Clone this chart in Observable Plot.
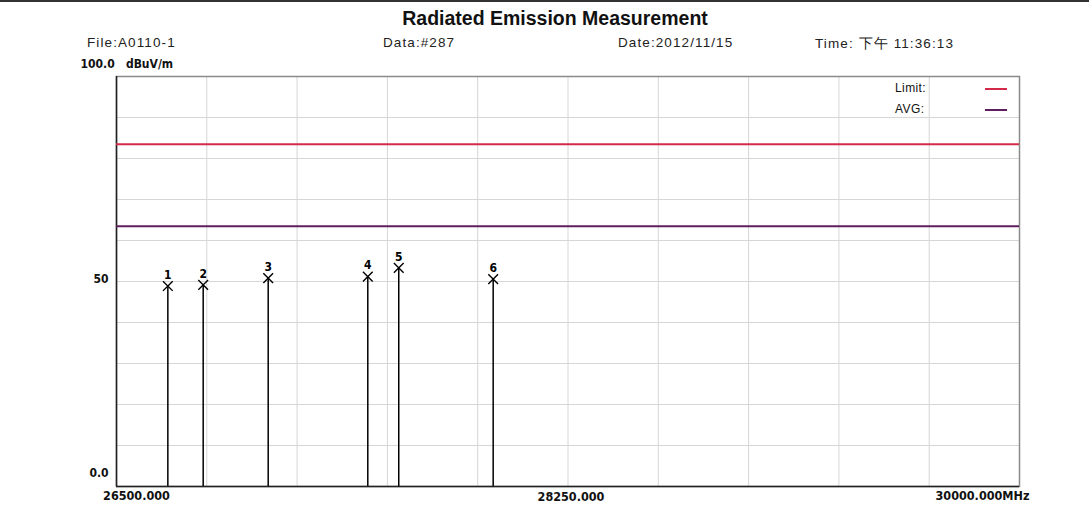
<!DOCTYPE html>
<html>
<head>
<meta charset="utf-8">
<script src="https://cdn.jsdelivr.net/npm/d3@7"></script>
<script src="https://cdn.jsdelivr.net/npm/@observablehq/plot@0.6"></script>
<style>
  html, body { margin: 0; padding: 0; background: #fff; }
  #wrap { position: relative; width: 1089px; height: 506px; overflow: hidden; border-top: 2px solid #333; box-sizing: border-box; font-family: "Liberation Sans", Arial, sans-serif; }
  .hdr { position: absolute; font-size: 13.5px; color: #222; letter-spacing: 1.1px; white-space: nowrap; }
  #title { position: absolute; top: 5px; left: 0; width: 1110px; text-align: center; font-weight: bold; font-size: 19.5px; color: #111; }
  #chart { position: absolute; left: 0; top: 52px; }
  .leg { position: absolute; font-size: 12px; color: #111; white-space: nowrap; letter-spacing: 0.4px; }
  .sw { position: absolute; width: 22px; height: 2px; }
</style>
</head>
<body>
<div id="wrap">
  <div id="title">Radiated Emission Measurement</div>
  <div class="hdr" style="left:87px; top:33px;">File:A0110-1</div>
  <div class="hdr" style="left:383px; top:33px;">Data:#287</div>
  <div class="hdr" style="left:618px; top:33px;">Date:2012/11/15</div>
  <div class="hdr" style="left:815px; top:33px;">Time: 下午 11:36:13</div>
  <div id="chart"></div>
  <div id="legend"></div>
</div>
<script>
// ---- data ----
const markerIds = ["1", "2", "3", "4", "5", "6"];
const markerFreqs = [26699, 26836, 27088, 27474, 27594, 27960]; // MHz
const markerLevels = [48.9, 49.2, 50.8, 51.2, 53.3, 50.6];       // dBuV/m
const limitLevel = 83.5;
const avgLevel = 63.5;
const freqDomain = [26500, 30000];
const levelDomain = [0, 100];
const gridFreqs = [26850, 27200, 27550, 27900, 28250, 28600, 28950, 29300, 29650];
const gridLevels = [10, 20, 30, 40, 50, 60, 70, 80, 90];
const legendLabels = ["Limit:", "AVG:"];
const legendColors = ["#d42a4a", "#5e1f5c"];
const xTickLabels = ["26500.000", "28250.000", "30000.000MHz"];
const yTickLabels = ["0.0", "50", "100.0   dBuV/m"];

const markers = markerIds.map((id, i) => ({id, freq: markerFreqs[i], level: markerLevels[i]}));

const tickFont = "'DejaVu Sans Condensed', 'DejaVu Sans', sans-serif";

const plot = Plot.plot({
  width: 1089,
  height: 454,
  marginLeft: 116,
  marginRight: 70,
  marginTop: 22,
  marginBottom: 22,
  style: {background: "transparent", overflow: "visible"},
  x: {domain: freqDomain, axis: null},
  y: {domain: levelDomain, axis: null},
  marks: [
    Plot.ruleX(gridFreqs, {stroke: "#d6d6d6", strokeWidth: 1}),
    Plot.ruleY(gridLevels, {stroke: "#d6d6d6", strokeWidth: 1}),
    Plot.frame({stroke: "#8a8a8a", strokeWidth: 1.5}),
    Plot.ruleX([freqDomain[0]], {stroke: "#222", strokeWidth: 1.5}),
    Plot.ruleY([levelDomain[0]], {stroke: "#222", strokeWidth: 1.5}),
    Plot.ruleY([limitLevel], {stroke: legendColors[0], strokeWidth: 2}),
    Plot.ruleY([avgLevel], {stroke: legendColors[1], strokeWidth: 2}),
    Plot.ruleX(markers, {x: "freq", y1: 0, y2: "level", stroke: "#000", strokeWidth: 1.5}),
    Plot.dot(markers, {x: "freq", y: "level", symbol: "times", r: 4.5, stroke: "#000", strokeWidth: 1.4}),
    Plot.text(markers, {x: "freq", y: "level", text: "id", dy: -11, fontSize: 12, fontWeight: "bold", fill: "#000", fontFamily: tickFont}),
    // y tick labels
    Plot.text([yTickLabels[0]], {y: [levelDomain[0]], frameAnchor: "left", textAnchor: "end", dx: -8, dy: -13, fontSize: 12, fontWeight: "bold", fontFamily: tickFont, fill: "#111"}),
    Plot.text([yTickLabels[1]], {y: [50], frameAnchor: "left", textAnchor: "end", dx: -8, dy: -2, fontSize: 12, fontWeight: "bold", fontFamily: tickFont, fill: "#111"}),
    Plot.text([yTickLabels[2]], {y: [levelDomain[1]], frameAnchor: "left", textAnchor: "start", dx: -36, dy: -12, fontSize: 12, fontWeight: "bold", fontFamily: tickFont, fill: "#111"}),
    // x tick labels
    Plot.text([xTickLabels[0]], {x: [freqDomain[0]], frameAnchor: "bottom", textAnchor: "middle", dx: 20, dy: 13, fontSize: 12.5, fontWeight: "bold", fontFamily: tickFont, fill: "#111"}),
    Plot.text([xTickLabels[1]], {x: [28250], frameAnchor: "bottom", textAnchor: "middle", dx: 3, dy: 14, fontSize: 12.5, fontWeight: "bold", fontFamily: tickFont, fill: "#111"}),
    Plot.text([xTickLabels[2]], {x: [freqDomain[1]], frameAnchor: "bottom", textAnchor: "start", dx: -84, dy: 13, fontSize: 12.5, fontWeight: "bold", fontFamily: tickFont, fill: "#111"})
  ]
});
plot.querySelectorAll("text").forEach(t => t.setAttribute("xml:space", "preserve"));
document.getElementById("chart").appendChild(plot);

// legend (inside plot area, top-right)
const leg = document.getElementById("legend");
legendLabels.forEach((lab, i) => {
  const t = document.createElement("div");
  t.className = "leg";
  t.style.left = "895px";
  t.style.top = (79 + i * 21) + "px";
  t.textContent = lab;
  leg.appendChild(t);
  const s = document.createElement("div");
  s.className = "sw";
  s.style.left = "985px";
  s.style.top = (86 + i * 21) + "px";
  s.style.background = legendColors[i];
  leg.appendChild(s);
});
</script>
</body>
</html>
